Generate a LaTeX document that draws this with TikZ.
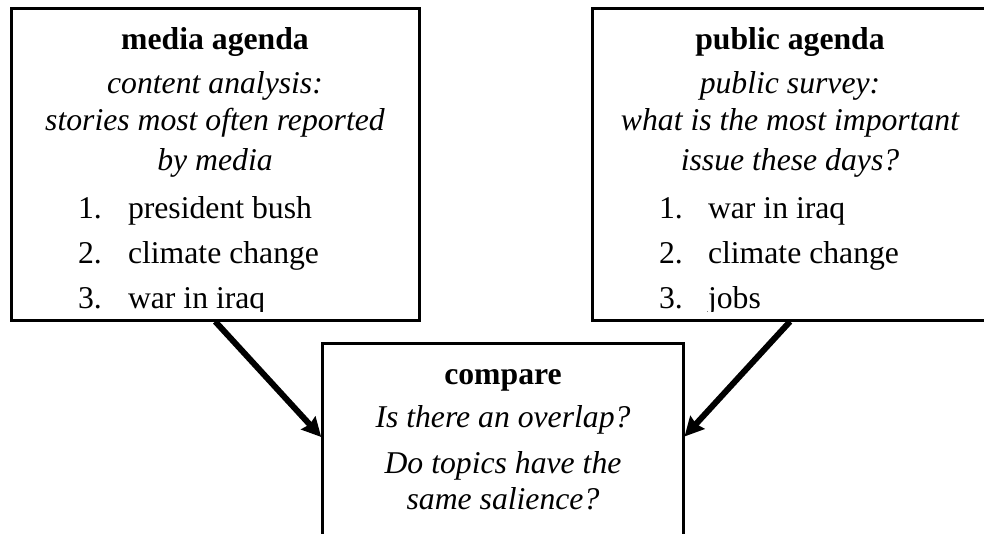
\documentclass[tikz,border=0pt]{standalone}
\usepackage{fontspec}
\setmainfont{Liberation Serif}
\usetikzlibrary{arrows.meta}
\begin{document}
\begin{tikzpicture}[x=1pt,y=-1pt,
  box/.style={draw,line width=3pt,inner sep=0pt,rectangle},
  txt/.style={inner sep=0pt,outer sep=0pt,font=\fontsize{31.7pt}{38pt}\selectfont},
  ttl/.style={txt,anchor=base,font=\fontsize{31.7pt}{38pt}\selectfont\bfseries},
  itl/.style={txt,anchor=base,font=\fontsize{31.7pt}{38pt}\selectfont\itshape},
  num/.style={txt,anchor=base west},
  arr/.style={line width=6pt,-{Stealth[length=19pt,width=19pt,inset=2pt]}}]
\useasboundingbox (0,0) rectangle (984,533);
\clip (0,0) rectangle (984,533);
% boxes
\node[box,minimum width=407.5pt,minimum height=312pt] (media) at (215.25,164) {};
\node[box,minimum width=394.6pt,minimum height=312pt] (public) at (790,164) {};
\node[box,minimum width=360.3pt,minimum height=200pt] (compare) at (502.85,443.7) {};
% media agenda text
\node[ttl] (mt) at (215,49) {media agenda};
\node[itl] (ms) at (215,93) {content analysis:};
\node[itl] (mq1) at (215,130) {stories most often reported};
\node[itl] (mq2) at (215,170) {by media};
% public agenda text
\node[ttl] (pt) at (790,49) {public agenda};
\node[itl] (ps) at (790,93) {public survey:};
\node[itl] (pq1) at (790,130) {what is the most important};
\node[itl] (pq2) at (790,170) {issue these days?};
\begin{scope}
\clip (0,0) rectangle (984,311.5);
\node[num] (mn1) at (78,218) {1.};
\node[num] (mi1) at (128,218) {president bush};
\node[num] (mn2) at (78,263) {2.};
\node[num] (mi2) at (128,263) {climate change};
\node[num] (mn3) at (78,308) {3.};
\node[num] (mi3) at (128,308) {war in iraq};
\node[num] (pn1) at (659,218) {1.};
\node[num] (pi1) at (708,218) {war in iraq};
\node[num] (pn2) at (659,263) {2.};
\node[num] (pi2) at (708,263) {climate change};
\node[num] (pn3) at (659,308) {3.};
\node[num] (pi3) at (708,308) {jobs};
\end{scope}
% compare text
\node[ttl] (ct) at (503,384) {compare};
\node[itl] (cq1) at (503,427) {Is there an overlap?};
\node[itl] (cq2) at (503,473) {Do topics have the};
\node[itl] (cq3) at (503,509) {same salience?};
% arrows
\draw[arr] (media.south) -- ([yshift=-94.8pt]compare.north west);
\draw[arr] (public.south) -- ([yshift=-94.3pt]compare.north east);
\end{tikzpicture}
\end{document}
